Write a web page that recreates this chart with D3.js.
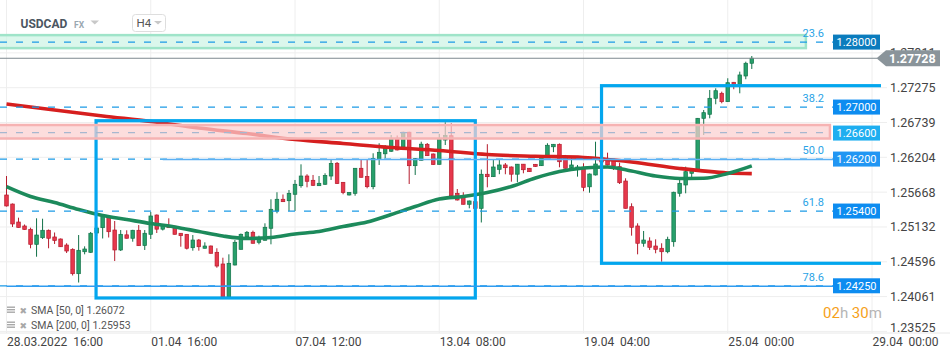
<!DOCTYPE html>
<html><head><meta charset="utf-8">
<script src="https://cdn.jsdelivr.net/npm/d3@7"></script>
<style>
html,body{margin:0;padding:0;background:#fff;}
svg{display:block;font-family:Roboto,"Noto Sans",sans-serif;}
</style></head><body>
<svg id="chart" width="950" height="358"></svg>
<script>
// ---------- data ----------
const symbol = "USDCAD";
const market = "FX";
const interval = "H4";
const open = [
1.25624,1.25485,1.25208,1.25147,1.25096,1.24865,1.24967,1.25081,1.24978,1.24947,
1.24854,1.24788,1.24413,1.24751,1.24742,1.25039,1.25121,1.25275,1.25085,1.24778,
1.25011,1.24958,1.25081,1.24847,1.25019,1.25316,1.25098,1.25155,1.25144,1.25035,
1.25019,1.24813,1.24931,1.24804,1.24839,1.24742,1.24562,1.24054,1.24547,1.24788,
1.24982,1.25050,1.24896,1.24927,1.25112,1.25378,1.25558,1.25536,1.25635,1.25767,
1.25916,1.25850,1.25767,1.25789,1.25916,1.26112,1.25819,1.25624,1.25650,1.26035,
1.25909,1.25752,1.26170,1.26258,1.26297,1.26497,1.26360,1.26590,1.26075,1.26158,
1.26404,1.26255,1.26096,1.26470,1.26537,1.25650,1.25598,1.25481,1.25521,1.25419,
1.25943,1.25906,1.26019,1.26086,1.26055,1.25944,1.26098,1.26035,1.26096,1.26075,
1.26201,1.26366,1.26404,1.26193,1.26044,1.26039,1.26024,1.25750,1.25932,1.26178,
1.26173,1.26163,1.26060,1.25839,1.25444,1.25147,1.24881,1.24916,1.24839,1.24804,
1.24751,1.24905,1.25650,1.25778,1.25958,1.25983,1.26804,1.26866,1.27112,1.27189,
1.27060,1.27358,1.27328,1.27455,1.27651];
const high = [
1.25916,1.25493,1.25275,1.25170,1.25121,1.25265,1.25259,1.25093,1.25047,1.24955,
1.24881,1.24804,1.25008,1.24834,1.25055,1.25147,1.25324,1.25316,1.25224,1.25085,
1.25081,1.25088,1.25162,1.25085,1.25362,1.25324,1.25162,1.25265,1.25150,1.25039,
1.25024,1.25008,1.24947,1.24896,1.24847,1.24804,1.24659,1.24711,1.24931,1.25031,
1.25070,1.25075,1.24998,1.25188,1.25558,1.25666,1.25632,1.25701,1.25855,1.26096,
1.25943,1.25932,1.25916,1.25958,1.26178,1.26132,1.25824,1.25670,1.26039,1.26170,
1.26163,1.26266,1.26420,1.26393,1.26547,1.26540,1.26598,1.26598,1.26193,1.26444,
1.26424,1.26263,1.26563,1.26743,1.26727,1.25716,1.25666,1.25539,1.25532,1.26016,
1.26406,1.26175,1.26163,1.26116,1.26063,1.26101,1.26101,1.26039,1.26101,1.26204,
1.26420,1.26409,1.26417,1.26240,1.26224,1.26086,1.26112,1.25955,1.26444,1.26255,
1.26275,1.26170,1.26121,1.25881,1.25496,1.25188,1.25070,1.24973,1.24942,1.24881,
1.24982,1.25675,1.25881,1.26060,1.26032,1.26809,1.26932,1.27240,1.27266,1.27214,
1.27420,1.27363,1.27522,1.27675,1.27763];
const low = [
1.25447,1.25132,1.25121,1.25090,1.24804,1.24674,1.24947,1.24804,1.24870,1.24824,
1.24731,1.24385,1.24277,1.24711,1.24734,1.24993,1.24955,1.24970,1.24608,1.24762,
1.24955,1.24905,1.24842,1.24778,1.24947,1.25039,1.25078,1.25116,1.25016,1.24828,
1.24785,1.24767,1.24767,1.24801,1.24724,1.24505,1.24023,1.24023,1.24539,1.24785,
1.24970,1.24878,1.24865,1.24924,1.24865,1.25342,1.25516,1.25378,1.25378,1.25736,
1.25742,1.25762,1.25762,1.25778,1.25855,1.25793,1.25635,1.25616,1.25613,1.25893,
1.25727,1.25712,1.26086,1.26189,1.26286,1.26309,1.26355,1.25793,1.25932,1.26155,
1.26224,1.26086,1.26093,1.26393,1.25609,1.25539,1.25478,1.25419,1.25416,1.25201,
1.25742,1.25901,1.25944,1.25943,1.25829,1.25821,1.25958,1.25978,1.26055,1.26070,
1.26197,1.26283,1.26050,1.26032,1.26024,1.25906,1.25682,1.25659,1.25924,1.26086,
1.26078,1.26009,1.25793,1.25416,1.24998,1.24711,1.24828,1.24778,1.24727,1.24597,
1.24727,1.24828,1.25598,1.25650,1.25855,1.25978,1.26547,1.26804,1.27020,1.27035,
1.27055,1.27251,1.27189,1.27405,1.27563];
const close = [
1.25455,1.25178,1.25124,1.25093,1.24865,1.25008,1.25081,1.24958,1.24924,1.24828,
1.24762,1.24413,1.24773,1.24793,1.25035,1.25116,1.25290,1.25059,1.24778,1.25019,
1.24958,1.25081,1.24844,1.25035,1.25301,1.25098,1.25155,1.25121,1.25019,1.24998,
1.24804,1.24931,1.24828,1.24839,1.24727,1.24531,1.24054,1.24573,1.24896,1.25019,
1.25050,1.24881,1.24967,1.25127,1.25404,1.25558,1.25521,1.25650,1.25789,1.25916,
1.25835,1.25773,1.25804,1.25924,1.26109,1.25801,1.25662,1.25662,1.26035,1.25896,
1.25752,1.26186,1.26281,1.26343,1.26497,1.26317,1.26590,1.26075,1.26183,1.26406,
1.26229,1.26093,1.26483,1.26540,1.25613,1.25547,1.25481,1.25532,1.25419,1.25943,
1.25906,1.26055,1.26086,1.26044,1.25944,1.26098,1.26013,1.25983,1.26063,1.26201,
1.26389,1.26404,1.26136,1.26035,1.26086,1.26055,1.25742,1.25947,1.26101,1.26132,
1.26086,1.26070,1.25813,1.25419,1.25127,1.24881,1.24931,1.24819,1.24788,1.24751,
1.24942,1.25666,1.25804,1.25983,1.26009,1.26804,1.26891,1.27112,1.27229,1.27060,
1.27352,1.27328,1.27471,1.27651,1.27728];

const sma50Index = [0,4,8,12,16,20,24,28,32,36,40,44,48,52,56,60,64,68,72,76,80,84,88,92,96,100,104,108,112,116,120,124];
const sma50 = [1.25752,1.25601,1.25508,1.25401,1.25309,1.25247,1.25185,1.25132,1.25062,1.24993,1.24955,1.24970,1.25024,1.25062,1.25139,1.25208,1.25324,1.25447,1.25562,1.25601,1.25662,1.25755,1.25886,1.25986,1.26039,1.26055,1.25993,1.25916,1.25878,1.25881,1.25955,1.26072];
const sma200Index = [0,8,16,24,32,40,48,56,64,72,80,88,96,104,112,120,124];
const sma200 = [1.27024,1.26932,1.26840,1.26755,1.26655,1.26570,1.26478,1.26417,1.26355,1.26309,1.26247,1.26220,1.26201,1.26132,1.26032,1.25963,1.25953];
const legendNames = ["SMA [50, 0]", "SMA [200, 0]"];
const legendValues = [1.26072, 1.25953];

const yTicks = [1.27811,1.27275,1.26739,1.26204,1.25668,1.25132,1.24596,1.24061,1.23525];
const xTickIndex = [0,24,48,72,96,120,144];
const xTickLabels = ["28.03.2022  16:00","01.04  16:00","07.04  12:00","13.04  08:00","19.04  04:00","25.04  00:00","29.04  00:00"];

const fibLevels = [1.28, 1.27, 1.262, 1.254, 1.2425];
const fibLabels = ["23.6","38.2","50.0","61.8","78.6"];
const tagLevels = [1.28, 1.27, 1.266, 1.262, 1.254, 1.2425];
const lastPrice = 1.27728;
const zoneTop = [1.28084, 1.26701];
const zoneBottom = [1.27884, 1.26493];
const zoneEnd = [133, 137];
const zoneMid = [1.28, 1.266];
const boxStart = [14.9, 99];
const boxEnd = [78, 150];
const boxTop = [1.26767, 1.27306];
const boxBottom = [1.24039, 1.24573];
const solidLevels = [1.262, 1.2425];
const solidStart = [26, 0];
const countdown = ["02","h ","30","m"];

// ---------- styles ----------
const tagColors = ["#0b7cbd","#0d8cf0","#1eaef0","#2196f3","#0d8cf0","#0d8cf0"];
const zoneFill = ["#cdf4e5","#fbd0d0"];
const zoneStroke = ["#9fe4c9","#f6b3b3"];
const off = 1.5; // label/line pixel offset

// ---------- chart ----------
const svg = d3.select("#chart");
const x = d3.scaleLinear().domain([0,144]).range([6.5,872]);
const y = d3.scaleLinear().domain([1.23525,1.27275]).range([331.4,87.7]);

svg.append("defs").append("clipPath").attr("id","plot")
  .append("rect").attr("x",0).attr("y",0).attr("width",881).attr("height",333);

// gridlines
svg.append("g").selectAll("line").data(yTicks).join("line")
  .attr("x1",0).attr("x2",887).attr("y1",d=>y(d)).attr("y2",d=>y(d))
  .attr("stroke","#eeeeee").attr("stroke-width",1);
svg.append("g").selectAll("line").data(xTickIndex).join("line")
  .attr("x1",d=>x(d)).attr("x2",d=>x(d)).attr("y1",0).attr("y2",333)
  .attr("stroke","#eeeeee").attr("stroke-width",1);
svg.append("line").attr("x1",0).attr("x2",950).attr("y1",333).attr("y2",333)
  .attr("stroke","#e8e8e8");

const plot = svg.append("g").attr("clip-path","url(#plot)");

// candles
const candles = open.map((o,i)=>({i,o,h:high[i],l:low[i],c:close[i]}));
const cg = plot.append("g");
cg.selectAll("line").data(candles).join("line")
  .attr("x1",d=>x(d.i)).attr("x2",d=>x(d.i))
  .attr("y1",d=>y(d.h)).attr("y2",d=>y(d.l))
  .attr("stroke",d=>d.c>=d.o?"#137249":"#b51c2d").attr("stroke-width",1);
cg.selectAll("rect").data(candles).join("rect")
  .attr("x",d=>x(d.i)-1.8).attr("width",3.6)
  .attr("y",d=>y(Math.max(d.o,d.c)))
  .attr("height",d=>Math.max(1,Math.abs(y(d.o)-y(d.c))))
  .attr("fill",d=>d.c>=d.o?"#27a06b":"#e6384c")
  .attr("stroke",d=>d.c>=d.o?"#137249":"#b51c2d").attr("stroke-width",0.7);

// SMA lines
const line = d3.line().x(d=>x(d[0])).y(d=>y(d[1])).curve(d3.curveMonotoneX);
plot.append("path").datum(sma200Index.map((k,j)=>[k,sma200[j]]))
  .attr("d",line).attr("fill","none").attr("stroke","#d61f1f").attr("stroke-width",3.6);
plot.append("path").datum(sma50Index.map((k,j)=>[k,sma50[j]]))
  .attr("d",line).attr("fill","none").attr("stroke","#1c8a5b").attr("stroke-width",3.6);

// boxes
plot.append("g").selectAll("rect").data(boxStart).join("rect")
  .attr("x",(d,k)=>x(d)).attr("width",(d,k)=>x(boxEnd[k])-x(d))
  .attr("y",(d,k)=>y(boxTop[k])).attr("height",(d,k)=>y(boxBottom[k])-y(boxTop[k]))
  .attr("fill","none").attr("stroke","#03a6ee").attr("stroke-width",3.2);

// zones
plot.append("g").selectAll("rect").data(zoneTop).join("rect")
  .attr("x",-3).attr("width",(d,k)=>x(zoneEnd[k])+3)
  .attr("y",d=>y(d)).attr("height",(d,k)=>y(zoneBottom[k])-y(d))
  .attr("fill",(d,k)=>zoneFill[k]).attr("fill-opacity",0.72)
  .attr("stroke",(d,k)=>zoneStroke[k]).attr("stroke-width",2.5);
// pink zone mid dashed line
plot.append("line").attr("x1",0).attr("x2",x(zoneEnd[1]))
  .attr("y1",y(zoneMid[1])+1).attr("y2",y(zoneMid[1])+1)
  .attr("stroke","#a7b7cf").attr("stroke-width",1.2).attr("stroke-dasharray","7,9");

// fib dashed lines
plot.append("g").selectAll("line").data(fibLevels).join("line")
  .attr("x1",0).attr("x2",x(137.5))
  .attr("y1",d=>y(d)+off).attr("y2",d=>y(d)+off)
  .attr("stroke","#1d9be6").attr("stroke-width",1.2).attr("stroke-dasharray","7,9");

// solid level lines
plot.append("g").selectAll("line").data(solidLevels).join("line")
  .attr("x1",(d,k)=>x(solidStart[k])).attr("x2",833)
  .attr("y1",d=>y(d)+off+0.5).attr("y2",d=>y(d)+off+0.5)
  .attr("stroke",(d,k)=>k===0?"#5cb0f3":"#2f9cf0").attr("stroke-width",1.6);

// fib labels
svg.append("g").selectAll("text").data(fibLevels).join("text")
  .attr("x",824).attr("y",d=>y(d)+off-5).attr("text-anchor","end")
  .attr("font-size",11).attr("fill","#2aa3e6").text((d,k)=>fibLabels[k]);

// current price line
svg.append("line").attr("x1",0).attr("x2",877).attr("y1",y(lastPrice)).attr("y2",y(lastPrice))
  .attr("stroke","#7e888e").attr("stroke-width",1);

// y axis
const yAxis = d3.axisRight(y).tickValues(yTicks).tickSize(0).tickPadding(0)
  .tickFormat(d3.format(".5f"));
const ya = svg.append("g").attr("transform","translate(890,0)").call(yAxis);
ya.select(".domain").remove();
ya.selectAll("text").attr("font-size",12.5).attr("fill","#444")
  .attr("font-family","Roboto,sans-serif")
  .attr("y",d=>Math.min(y(d),327)-y(d));

// price tags
const tg = svg.append("g").selectAll("g").data(tagLevels).join("g")
  .attr("transform",d=>`translate(833,${y(d)+off})`);
tg.append("rect").attr("x",0).attr("y",-7.5).attr("width",47).attr("height",15)
  .attr("fill",(d,k)=>tagColors[k]);
tg.append("text").attr("x",23.5).attr("y",4).attr("text-anchor","middle")
  .attr("font-size",11).attr("fill","#fff").text(d=>d3.format(".5f")(d));

// last price tag
const ly = y(lastPrice);
svg.append("path")
  .attr("d",`M876.5,${ly} L886,${ly-8} L940,${ly-8} L940,${ly+8} L886,${ly+8} Z`)
  .attr("fill","#8a949a");
svg.append("text").attr("x",889).attr("y",ly+4.5).attr("font-size",12.5)
  .attr("font-weight","bold").attr("fill","#fff").text(d3.format(".5f")(lastPrice));

// x axis
const xAxis = d3.axisBottom(x).tickValues(xTickIndex).tickSize(0).tickPadding(4)
  .tickFormat((d,k)=>xTickLabels[k]);
const xa = svg.append("g").attr("transform","translate(0,333)").call(xAxis);
xa.select(".domain").remove();
xa.selectAll("text").attr("text-anchor","start").attr("font-size",12)
  .attr("font-family","Roboto,sans-serif").attr("fill","#444")
  .style("white-space","pre");

// countdown
const cd = svg.append("text").attr("x",823).attr("y",318).attr("font-size",15).style("white-space","pre");
cd.selectAll("tspan").data(countdown).join("tspan")
  .attr("fill",(d,k)=>k%2===0?"#f6a11a":"#b5b5b5").text(d=>d);

// legend
const lg = svg.append("g").selectAll("g").data(legendNames).join("g")
  .attr("transform",(d,k)=>`translate(0,${310+k*15})`);
[-3.5,-1,1.5].forEach(dy=>{
  lg.append("rect").attr("x",7).attr("y",dy).attr("width",8).attr("height",1.4).attr("fill","#a8a8a8");
});
lg.append("text").attr("x",19.5).attr("y",3.5).attr("font-size",9).attr("fill","#a8a8a8")
  .attr("font-family","DejaVu Sans").text("✖");
lg.append("text").attr("x",31).attr("y",4).attr("font-size",10.5).attr("fill","#555")
  .text((d,k)=>d+" "+d3.format(".5f")(legendValues[k]));

// header
svg.append("text").attr("x",20.5).attr("y",27.5).attr("font-size",12).attr("font-weight","bold")
  .attr("fill","#4b5661").text(symbol);
svg.append("text").attr("x",74).attr("y",27.5).attr("font-size",8.5).attr("font-weight","bold")
  .attr("fill","#9aa7b1").text(market);
svg.append("path").attr("d","M90.5,20.5 L99,20.5 L94.75,24.5 Z").attr("fill","#c8c8c8");
svg.append("rect").attr("x",132.5).attr("y",14.5).attr("width",33).attr("height",17).attr("rx",3)
  .attr("fill","#fff").attr("stroke","#dedede");
svg.append("text").attr("x",136.5).attr("y",27).attr("font-size",11.5).attr("fill","#555").text(interval);
svg.append("path").attr("d","M154,21 L162,21 L158,24.5 Z").attr("fill","#c8c8c8");
</script>
</body></html>
